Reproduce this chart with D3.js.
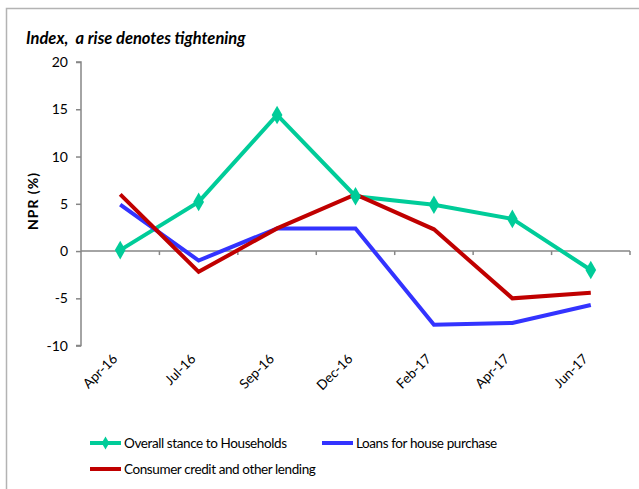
<!DOCTYPE html>
<html>
<head>
<meta charset="utf-8">
<script src="https://cdn.jsdelivr.net/npm/d3@7"></script>
<style>
  html, body { margin: 0; padding: 0; background: #fff; }
  svg text { font-family: Lato, "Open Sans", sans-serif; fill: #000; }
</style>
</head>
<body>
<svg id="chart" width="639" height="489"></svg>
<script>
// Survey periods
const categories = ["Apr-16", "Jul-16", "Sep-16", "Dec-16", "Feb-17", "Apr-17", "Jun-17"];

// Net percentage responses (%)
const overallStance = [0.1, 5.2, 14.4, 5.8, 4.9, 3.4, -2.0];
const housePurchase = [4.9, -1.0, 2.4, 2.4, -7.8, -7.6, -5.7];
const consumerCredit = [6.0, -2.2, 2.4, 6.0, 2.3, -5.0, -4.4];

const yTicks = [-10, -5, 0, 5, 10, 15, 20];

const series = [
  { name: "Overall stance to Households", values: overallStance, color: "#00CC99", marker: true },
  { name: "Loans for house purchase", values: housePurchase, color: "#3333FF", marker: false },
  { name: "Consumer credit and other lending", values: consumerCredit, color: "#C00000", marker: false }
];

const svg = d3.select("#chart");

// Outer frame (top and left edges)
svg.append("path")
  .attr("d", "M6.5,489 L6.5,8.5 L639,8.5")
  .attr("fill", "none")
  .attr("stroke", "#b3b3b3")
  .attr("stroke-width", 1.5);

const plot = { left: 81, right: 630, top: 62, bottom: 345.6 };

const x = d3.scaleBand().domain(categories).range([plot.left, plot.right]);
const y = d3.scaleLinear().domain([-10, 20]).range([plot.bottom, plot.top]);

const axisColor = "#868686";

// Y axis
const yAxis = svg.append("g")
  .attr("transform", `translate(${plot.left},0)`)
  .call(d3.axisLeft(y).tickValues(yTicks).tickSize(5).tickPadding(8).tickFormat(d => String(d)));
yAxis.selectAll("path, line").attr("stroke", axisColor).attr("stroke-width", 1.5);
yAxis.select(".domain").attr("d", `M-5,${y(-10)}H0V${y(20)}H-5`);
yAxis.selectAll("text").style("font-size", "14px").attr("font-family", "Lato, sans-serif");

// X axis along zero line with ticks at category boundaries
const boundaries = categories.map(c => x(c)).concat([plot.right]).slice(1);
const xg = svg.append("g");
xg.append("line")
  .attr("x1", plot.left).attr("x2", plot.right)
  .attr("y1", y(0)).attr("y2", y(0))
  .attr("stroke", axisColor).attr("stroke-width", 1.5);
xg.selectAll("line.tick")
  .data(boundaries)
  .join("line")
  .attr("class", "tick")
  .attr("x1", d => d).attr("x2", d => d)
  .attr("y1", y(0)).attr("y2", y(0) + 4)
  .attr("stroke", axisColor).attr("stroke-width", 1.5);

// Category labels, rotated, below the plot
svg.append("g").selectAll("text")
  .data(categories)
  .join("text")
  .attr("transform", d => `translate(${x(d) + x.bandwidth() / 2 - 2},${plot.bottom + 14}) rotate(-45)`)
  .attr("text-anchor", "end")
  .style("font-size", "13.5px")
  .text(d => d);

// Lines
const line = d3.line()
  .x((d, i) => x(categories[i]) + x.bandwidth() / 2)
  .y(d => y(d));

series.forEach(s => {
  svg.append("path")
    .datum(s.values)
    .attr("fill", "none")
    .attr("stroke", s.color)
    .attr("stroke-width", 4)
    .attr("stroke-linejoin", "miter")
    .attr("d", line);
});

// Diamond markers for the overall stance series
const diamond = d3.symbol().type(d3.symbolDiamond).size(100);
svg.append("g").selectAll("path")
  .data(overallStance)
  .join("path")
  .attr("transform", (d, i) => `translate(${x(categories[i]) + x.bandwidth() / 2},${y(d)})`)
  .attr("d", diamond)
  .attr("fill", series[0].color);

// Title and axis label
svg.append("text")
  .attr("x", 26).attr("y", 44)
  .style("font-size", "16.5px")
  .style("font-weight", "bold")
  .style("font-style", "italic")
  .attr("xml:space", "preserve")
  .text("Index,  a rise denotes tightening");

svg.append("text")
  .attr("transform", `translate(38,201) rotate(-90)`)
  .attr("text-anchor", "middle")
  .style("font-size", "14px")
  .style("font-weight", "bold")
  .style("letter-spacing", "1px")
  .text("NPR (%)");

// Legend
const legendItems = [
  { s: series[0], lx: 90, ly: 443 },
  { s: series[1], lx: 322, ly: 443 },
  { s: series[2], lx: 90, ly: 469 }
];
const lg = svg.append("g");
legendItems.forEach(({ s, lx, ly }) => {
  lg.append("line")
    .attr("x1", lx).attr("x2", lx + 31)
    .attr("y1", ly).attr("y2", ly)
    .attr("stroke", s.color).attr("stroke-width", 4);
  if (s.marker) {
    lg.append("path")
      .attr("transform", `translate(${lx + 15.5},${ly})`)
      .attr("d", d3.symbol().type(d3.symbolDiamond).size(50))
      .attr("fill", s.color);
  }
  lg.append("text")
    .attr("x", lx + 34).attr("y", ly + 5)
    .style("font-size", "13.5px")
    .style("letter-spacing", "-0.4px")
    .text(s.name);
});
</script>
</body>
</html>
